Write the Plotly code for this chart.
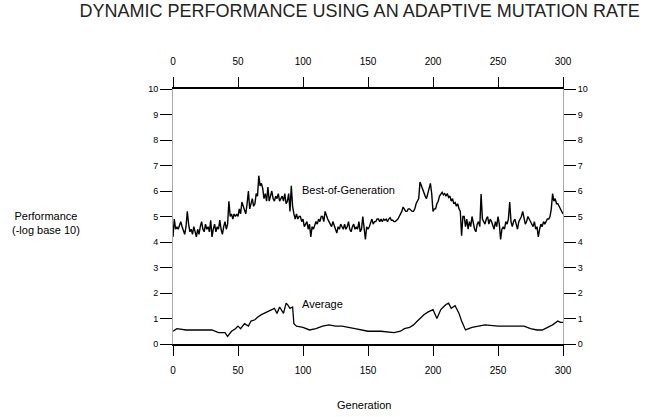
import plotly.graph_objects as go

# Best-of-Generation, one value per generation 0..300
best_gen = list(range(0, 301))
best_val = [
    4.2, 4.9, 4.5, 4.6, 4.5, 4.7, 4.8, 4.6, 4.4, 4.3,
    4.6, 5.2, 4.7, 4.4, 4.5, 4.3, 4.6, 4.4, 4.2, 4.5,
    4.3, 4.6, 4.8, 4.5, 4.4, 4.7, 4.5, 4.6, 4.4, 4.85,
    4.2, 4.5, 4.7, 4.4, 4.6, 4.5, 4.86, 4.5, 4.3, 4.6,
    4.8, 4.5, 4.7, 5.6, 5.0, 5.1, 4.9, 5.1, 5.0, 5.1,
    5.0, 5.3, 5.1, 5.57, 5.4, 5.2, 5.1, 5.5, 6.0, 5.3,
    5.5, 5.7, 5.4, 5.5, 5.9, 5.8, 6.6, 6.2, 6.3, 6.1,
    5.7, 5.9, 5.6, 6.15, 5.6, 5.8, 6.0, 5.7, 5.6, 5.8,
    5.7, 5.9, 5.6, 5.7, 5.8, 5.6, 5.9, 5.5, 5.6, 5.9,
    5.2, 6.2, 5.4, 5.1, 4.9, 5.1, 4.9, 5.0, 5.0, 4.8,
    4.9, 4.6, 4.7, 4.8, 4.5, 4.7, 4.2, 4.6, 4.5, 4.7,
    4.8, 4.7, 4.9, 4.8, 5.0, 5.0, 4.8, 5.2, 5.0, 4.9,
    4.8, 4.7, 4.6, 4.8, 4.6, 4.5, 4.35, 4.6, 4.5, 4.7,
    4.6, 4.5, 4.7, 4.5, 4.6, 4.8, 4.5, 4.4, 4.6, 4.7,
    4.5, 4.6, 4.5, 4.8, 4.4, 4.5, 5.0, 4.6, 4.1, 4.6,
    4.5, 4.6, 4.8, 4.9, 4.7, 4.8, 4.8, 4.9, 4.9, 4.8,
    4.9, 4.8, 4.9, 4.85, 4.9, 4.8, 4.9, 4.95, 4.85, 4.85,
    4.8, 4.8, 4.85, 4.9, 5.0, 5.1, 5.2, 5.37, 5.3, 5.2,
    5.2, 5.3, 5.3, 5.25, 5.2, 5.2, 5.3, 5.5, 5.6, 5.7,
    6.35, 6.2, 6.1, 5.95, 5.8, 5.7, 5.9, 6.1, 6.3, 5.9,
    5.2, 5.3, 5.3, 5.5, 5.6, 5.8, 5.9, 5.95, 5.85, 5.9,
    5.8, 5.9, 5.75, 5.8, 5.6, 5.7, 5.5, 5.55, 5.4, 5.5,
    5.3, 5.2, 4.25, 5.0, 5.0, 4.6, 4.9, 4.5, 4.8, 4.6,
    5.0, 4.7, 4.5, 4.4, 4.7, 4.8, 4.6, 5.88, 4.9, 4.8,
    4.7, 4.9, 5.0, 4.7, 4.9, 4.8, 4.6, 4.5, 4.8, 4.6,
    5.0, 4.7, 4.1, 4.5, 4.6, 4.5, 4.8, 4.7, 4.9, 5.57,
    4.8, 4.6, 4.8, 4.9, 4.7, 4.5, 4.8, 4.9, 5.0, 5.2,
    4.9, 4.7, 4.8, 5.0, 4.9, 4.8, 4.7, 4.6, 4.8, 4.5,
    4.6, 4.2, 4.5, 4.7, 4.6, 4.8, 4.7, 4.8, 4.9, 4.9,
    5.0, 5.3, 5.9, 5.6, 5.7, 5.5, 5.5, 5.4, 5.3, 5.2,
    5.1,
]

# Average performance
avg_gen = [0, 3, 10, 20, 30, 35, 40, 42, 45, 48, 50, 52, 55, 58, 60, 63, 65, 68, 70, 73,
           75, 78, 80, 82, 85, 87, 88, 90, 92, 93, 95, 100, 105, 110, 115, 120, 125, 130, 140, 150,
           160, 170, 175, 178, 182, 185, 188, 190, 193, 196, 198, 200, 203, 206, 208, 210, 212, 214, 217, 220,
           222, 225, 230, 240, 250, 260, 270, 275, 280, 284, 288, 292, 296, 298, 300]
avg_val = [0.5, 0.6, 0.55, 0.55, 0.55, 0.45, 0.45, 0.3, 0.5, 0.6, 0.7, 0.6, 0.8, 0.7, 0.9, 0.95, 1.05, 1.15, 1.2, 1.25,
           1.3, 1.4, 1.2, 1.45, 1.2, 1.6, 1.55, 1.4, 1.45, 0.8, 0.7, 0.65, 0.55, 0.6, 0.7, 0.75, 0.7, 0.7, 0.6, 0.5,
           0.5, 0.45, 0.5, 0.6, 0.65, 0.75, 0.9, 1.0, 1.15, 1.25, 1.3, 1.35, 1.0, 1.35, 1.45, 1.55, 1.6, 1.4, 1.5, 1.2,
           0.9, 0.55, 0.65, 0.75, 0.7, 0.7, 0.7, 0.6, 0.55, 0.55, 0.65, 0.75, 0.9, 0.85, 0.85]

x_ticks = [0, 50, 100, 150, 200, 250, 300]
y_ticks = [0, 1, 2, 3, 4, 5, 6, 7, 8, 9, 10]

FONT = "Liberation Sans, Arial, sans-serif"

fig = go.Figure()
fig.add_trace(go.Scatter(x=best_gen, y=best_val, mode="lines",
                         line=dict(color="black", width=1.4), showlegend=False,
                         hoverinfo="skip"))
fig.add_trace(go.Scatter(x=avg_gen, y=avg_val, mode="lines",
                         line=dict(color="black", width=1.3), showlegend=False,
                         hoverinfo="skip"))
# invisible trace so the top/right axes exist
fig.add_trace(go.Scatter(x=[0, 300], y=[0, 10], xaxis="x2", yaxis="y2", mode="markers",
                         marker=dict(opacity=0), showlegend=False, hoverinfo="skip"))

axis_common = dict(range=[0, 300], tickvals=x_ticks, ticks="outside", ticklen=10,
                   tickcolor="black", tickwidth=1, showgrid=False, zeroline=False,
                   automargin=False,
                   tickfont=dict(family=FONT, size=10, color="black"))
yaxis_common = dict(range=[0, 10], tickvals=y_ticks, ticks="outside", ticklen=12,
                    tickcolor="black", showgrid=False, zeroline=False, automargin=False,
                    showline=True, linecolor="#aaa", linewidth=1,
                    tickfont=dict(family=FONT, size=9, color="black"))
fig.update_layout(
    width=648, height=417,
    margin=dict(l=173, r=85, t=89, b=73),
    paper_bgcolor="white", plot_bgcolor="white",
    title=dict(text="DYNAMIC PERFORMANCE USING AN ADAPTIVE MUTATION RATE",
               x=0.555, xanchor="center", y=0.99, yanchor="top",
               font=dict(family=FONT, size=18, color="#222")),
    xaxis=dict(**axis_common, showline=True, linecolor="black", linewidth=2,
               side="bottom", ticklabelstandoff=6),
    xaxis2=dict(**axis_common, showline=True, linecolor="black", linewidth=2,
                side="top", overlaying="x", anchor="y", ticklabelstandoff=8),
    yaxis=dict(**yaxis_common),
    yaxis2=dict(**yaxis_common, side="right", overlaying="y", anchor="x"),
    annotations=[
        dict(text="Generation", xref="paper", yref="paper",
             x=0.49, y=-0.24, xanchor="center", yanchor="middle", showarrow=False,
             font=dict(family=FONT, size=11, color="black")),
        dict(text="Performance<br>(-log base 10)", xref="paper", yref="paper",
             x=-0.325, y=0.475, xanchor="center", yanchor="middle", showarrow=False,
             font=dict(family=FONT, size=11, color="black"), align="center"),
        dict(text="Best-of-Generation", xref="x", yref="y", x=98, y=6.05,
             xanchor="left", yanchor="middle", showarrow=False,
             font=dict(family=FONT, size=11, color="black")),
        dict(text="Average", xref="x", yref="y", x=98, y=1.55,
             xanchor="left", yanchor="middle", showarrow=False,
             font=dict(family=FONT, size=11, color="black")),
    ],
)

fig.write_html("out.html")
